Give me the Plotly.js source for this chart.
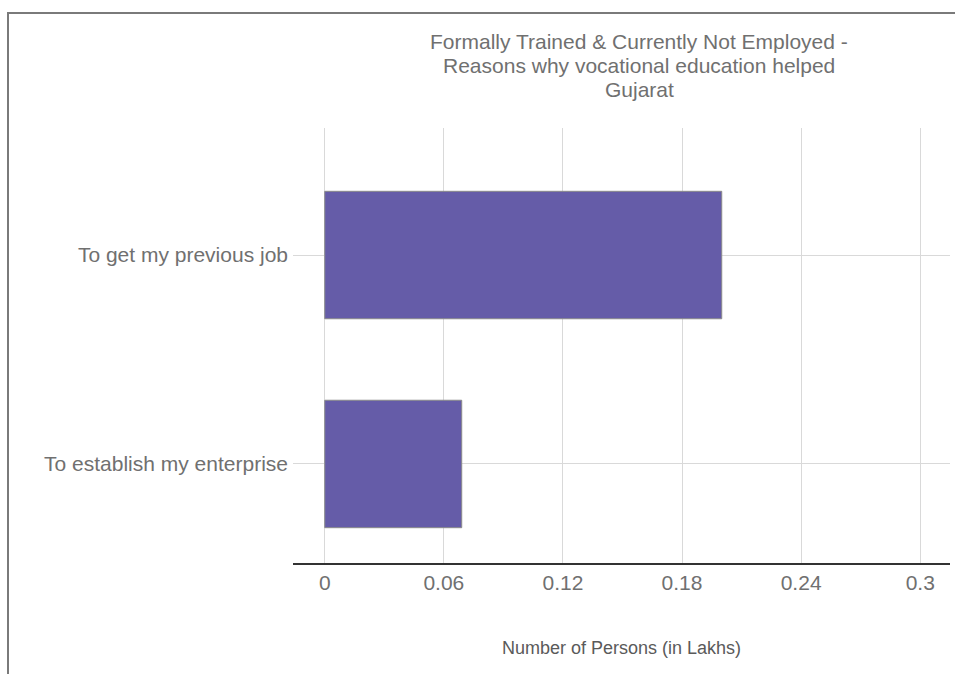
<!DOCTYPE html>
<html>
<head>
<meta charset="utf-8">
<script src="https://cdn.plot.ly/plotly-3.0.1.min.js"></script>
<style>
  html, body { margin: 0; padding: 0; background: #fff; }
  #wrap { position: relative; width: 955px; height: 674px; overflow: hidden; }
  #chart { width: 955px; height: 674px; }
  #frame { position: absolute; left: 7px; top: 12px; right: -5px; bottom: -5px;
           border-left: 2px solid #7a7a7a; border-top: 2px solid #7a7a7a; pointer-events: none; }
</style>
</head>
<body>
<div id="wrap">
  <div id="chart"></div>
  <div id="frame"></div>
</div>
<script>
const categories = ['To establish my enterprise', 'To get my previous job'];
const values = [0.069, 0.2];
const xTicks = [0, 0.06, 0.12, 0.18, 0.24, 0.3];
const xTickLabels = ['0', '0.06', '0.12', '0.18', '0.24', '0.3'];
const titleLines = [
  'Formally Trained & Currently Not Employed -',
  'Reasons why vocational education helped',
  'Gujarat'
];

const font = 'Liberation Sans, Arial, sans-serif';
const grey = '#707070';

const trace = {
  type: 'bar',
  orientation: 'h',
  y: categories,
  x: values,
  width: 0.61,
  marker: { color: '#655ca8', line: { color: '#8a8a8a', width: 1 } },
  hoverinfo: 'x+y'
};

// plot area: top 128px, bottom 563px (height 435)
const titleY = [42, 65.5, 89];
const annotations = titleLines.map((t, i) => ({
  text: t,
  xref: 'paper', yref: 'paper',
  x: (639 - 293) / (955 - 293 - 5),
  y: (563 - titleY[i]) / 435,
  xanchor: 'center', yanchor: 'middle',
  showarrow: false,
  font: { family: font, size: 21, color: grey }
}));

const layout = {
  width: 955, height: 674,
  paper_bgcolor: '#fff', plot_bgcolor: '#fff',
  margin: { l: 293, r: 5, t: 128, b: 111 },
  showlegend: false,
  font: { family: font, color: grey },
  annotations: annotations,
  xaxis: {
    range: [-0.016, 0.315],
    tickvals: xTicks, ticktext: xTickLabels,
    showgrid: true, gridcolor: '#d9d9d9', gridwidth: 1,
    zeroline: false,
    showline: true, linecolor: '#333', linewidth: 2,
    ticks: '',
    tickfont: { family: font, size: 21, color: grey },
    title: { text: 'Number of Persons (in Lakhs)', font: { family: font, size: 18, color: '#5a5a5a' }, standoff: 48 }
  },
  yaxis: {
    type: 'category',
    categoryorder: 'array', categoryarray: categories,
    range: [-0.474, 1.608],
    showgrid: true, gridcolor: '#d9d9d9', gridwidth: 1,
    zeroline: false, showline: false,
    ticks: '',
    ticklabelstandoff: 4,
    tickfont: { family: font, size: 21, color: grey }
  }
};

Plotly.newPlot('chart', [trace], layout, { displayModeBar: false, staticPlot: true });
</script>
</body>
</html>
